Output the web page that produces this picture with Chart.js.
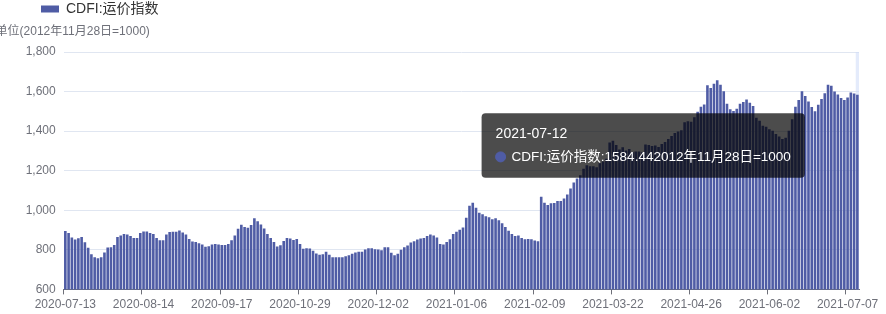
<!DOCTYPE html>
<html><head><meta charset="utf-8">
<script src="https://cdn.jsdelivr.net/npm/chart.js@4.4.1/dist/chart.umd.min.js"></script>
<style>html,body{margin:0;padding:0;background:#fff;}#wrap{width:886px;height:314px;position:relative;}</style>
</head><body><div id="wrap"><canvas id="c" width="886" height="314"></canvas></div>
<script>
const seriesName = 'CDFI:运价指数';
const unitLabel = '单位(2012年11月28日=1000)';
const unitSuffix = '2012年11月28日=1000';
const dates = [
'2020-07-13','2020-07-14','2020-07-15','2020-07-16','2020-07-17','2020-07-20','2020-07-21','2020-07-22','2020-07-23','2020-07-24','2020-07-27','2020-07-28','2020-07-29','2020-07-30','2020-07-31',
'2020-08-03','2020-08-04','2020-08-05','2020-08-06','2020-08-07','2020-08-10','2020-08-11','2020-08-12','2020-08-13','2020-08-14','2020-08-17','2020-08-18','2020-08-19','2020-08-20','2020-08-21','2020-08-24','2020-08-25','2020-08-26','2020-08-27','2020-08-28','2020-08-31',
'2020-09-01','2020-09-02','2020-09-03','2020-09-04','2020-09-07','2020-09-08','2020-09-09','2020-09-10','2020-09-11','2020-09-14','2020-09-15','2020-09-16','2020-09-17','2020-09-18','2020-09-21','2020-09-22','2020-09-23','2020-09-24','2020-09-25','2020-09-28','2020-09-29','2020-09-30',
'2020-10-09','2020-10-12','2020-10-13','2020-10-14','2020-10-15','2020-10-16','2020-10-19','2020-10-20','2020-10-21','2020-10-22','2020-10-23','2020-10-26','2020-10-27','2020-10-28','2020-10-29','2020-10-30',
'2020-11-02','2020-11-03','2020-11-04','2020-11-05','2020-11-06','2020-11-09','2020-11-10','2020-11-11','2020-11-12','2020-11-13','2020-11-16','2020-11-17','2020-11-18','2020-11-19','2020-11-20','2020-11-23','2020-11-24','2020-11-25','2020-11-26','2020-11-27','2020-11-30',
'2020-12-01','2020-12-02','2020-12-03','2020-12-04','2020-12-07','2020-12-08','2020-12-09','2020-12-10','2020-12-11','2020-12-14','2020-12-15','2020-12-16','2020-12-17','2020-12-18','2020-12-21','2020-12-22','2020-12-23','2020-12-24','2020-12-25','2020-12-28','2020-12-29','2020-12-30','2020-12-31',
'2021-01-04','2021-01-05','2021-01-06','2021-01-07','2021-01-08','2021-01-11','2021-01-12','2021-01-13','2021-01-14','2021-01-15','2021-01-18','2021-01-19','2021-01-20','2021-01-21','2021-01-22','2021-01-25','2021-01-26','2021-01-27','2021-01-28','2021-01-29',
'2021-02-01','2021-02-02','2021-02-03','2021-02-04','2021-02-05','2021-02-08','2021-02-09','2021-02-10','2021-02-18','2021-02-19','2021-02-22','2021-02-23','2021-02-24','2021-02-25','2021-02-26',
'2021-03-01','2021-03-02','2021-03-03','2021-03-04','2021-03-05','2021-03-08','2021-03-09','2021-03-10','2021-03-11','2021-03-12','2021-03-15','2021-03-16','2021-03-17','2021-03-18','2021-03-19','2021-03-22','2021-03-23','2021-03-24','2021-03-25','2021-03-26','2021-03-29','2021-03-30','2021-03-31',
'2021-04-01','2021-04-02','2021-04-06','2021-04-07','2021-04-08','2021-04-09','2021-04-12','2021-04-13','2021-04-14','2021-04-15','2021-04-16','2021-04-19','2021-04-20','2021-04-21','2021-04-22','2021-04-23','2021-04-26','2021-04-27','2021-04-28','2021-04-29','2021-04-30',
'2021-05-06','2021-05-07','2021-05-10','2021-05-11','2021-05-12','2021-05-13','2021-05-14','2021-05-17','2021-05-18','2021-05-19','2021-05-20','2021-05-21','2021-05-24','2021-05-25','2021-05-26','2021-05-27','2021-05-28','2021-05-31',
'2021-06-01','2021-06-02','2021-06-03','2021-06-04','2021-06-07','2021-06-08','2021-06-09','2021-06-10','2021-06-11','2021-06-15','2021-06-16','2021-06-17','2021-06-18','2021-06-21','2021-06-22','2021-06-23','2021-06-24','2021-06-25','2021-06-28','2021-06-29','2021-06-30',
'2021-07-01','2021-07-02','2021-07-05','2021-07-06','2021-07-07','2021-07-08','2021-07-09','2021-07-12'
];
const cdfi = [
895,885,862,852,858,865,838,810,778,762,
757,762,787,812,813,825,865,873,880,877,
870,860,860,885,893,893,885,880,860,848,
848,877,890,892,892,898,888,878,855,842,
840,833,827,815,818,827,830,827,825,825,
830,848,873,907,927,915,912,925,960,945,
928,908,880,860,840,817,823,845,860,857,
850,855,830,805,808,807,795,782,775,778,
790,775,762,763,763,763,768,773,780,787,
790,790,802,808,808,803,802,798,813,813,
785,772,780,800,813,822,837,843,852,857,
860,870,877,873,862,830,827,840,853,880,
892,902,913,962,1023,1038,1013,988,980,970,
965,955,960,950,935,915,897,880,870,872,
860,853,855,853,847,843,1068,1038,1027,1035,
1037,1047,1047,1060,1080,1110,1140,1160,1177,1210,
1227,1223,1223,1218,1238,1247,1260,1343,1352,1330,
1307,1318,1302,1310,1293,1297,1297,1293,1333,1330,
1325,1328,1320,1335,1345,1360,1375,1390,1398,1405,
1445,1450,1448,1470,1498,1523,1535,1632,1618,1640,
1657,1635,1602,1538,1510,1502,1513,1538,1547,1560,
1543,1527,1468,1452,1427,1422,1410,1402,1385,1373,
1360,1367,1402,1460,1523,1557,1602,1577,1550,1522,
1500,1533,1563,1592,1635,1630,1600,1585,1567,1558,
1570,1595,1590,1584.44
];
const yMin = 600, yMax = 1800, yStep = 200;
const xLabelStep = 24;
const activeIndex = cdfi.length - 1;

const barColor = '#4F5CA5';
const axisColor = '#6E7079';
const FONT = "'Liberation Sans','Noto Sans CJK SC',sans-serif";

Chart.Tooltip.positioners.fixedLeft = function(items) {
  if (!items.length) return false;
  const el = items[0].element;
  return { x: el.x - 52.5, y: this.chart.chartArea.top + 93.5 };
};

const shadowPlugin = {
  id: 'shadow',
  beforeDatasetsDraw(chart) {
    const {ctx, chartArea, scales} = chart;
    const band = (chartArea.right - chartArea.left) / dates.length;
    const px = scales.x.getPixelForValue(activeIndex);
    ctx.save();
    ctx.fillStyle = 'rgba(205,218,248,0.55)';
    ctx.fillRect(px - band / 2, chartArea.top, band, chartArea.bottom - chartArea.top);
    ctx.restore();
  }
};
const unitPlugin = {
  id: 'unitName',
  afterDraw(chart) {
    const {ctx, chartArea} = chart;
    ctx.save();
    ctx.font = '12px ' + FONT;
    ctx.fillStyle = axisColor;
    ctx.textAlign = 'center';
    ctx.textBaseline = 'middle';
    ctx.fillText(unitLabel, chartArea.left + 9, chartArea.top - 20);
    ctx.restore();
  }
};

const chart = new Chart(document.getElementById('c'), {
  type: 'bar',
  data: {
    labels: dates,
    datasets: [{
      label: seriesName,
      data: cdfi,
      backgroundColor: barColor,
      hoverBackgroundColor: barColor,
      borderWidth: 0,
      categoryPercentage: 0.8,
      barPercentage: 1.0
    }]
  },
  options: {
    responsive: false,
    animation: false,
    devicePixelRatio: 1,
    events: [],
    layout: { padding: { left: 0, right: 27, top: -39, bottom: 0 } },
    plugins: {
      legend: {
        display: true, position: 'top', align: 'start', weight: 3000,
        labels: { boxWidth: 18, boxHeight: 7, padding: 41, color: '#333', font: { size: 14, family: FONT } }
      },
      subtitle: { display: true, text: '', font: { size: 12 }, padding: { top: 0, bottom: 11.6 } },
      title: { display: false },
      tooltip: {
        enabled: true,
        position: 'fixedLeft',
        xAlign: 'right', yAlign: 'center',
        caretSize: 0, caretPadding: 0, cornerRadius: 4,
        backgroundColor: 'rgba(0,0,0,0.7)',
        titleColor: '#fff', bodyColor: '#fff',
        titleFont: { size: 14, weight: 'normal', family: FONT, lineHeight: 1.2 },
        bodyFont: { size: 13.5, family: FONT, lineHeight: 16.8 / 13.5 },
        titleMarginBottom: 6,
        padding: { left: 14, right: 14, top: 12.5, bottom: 12.5 },
        displayColors: true, usePointStyle: true, boxWidth: 10, boxHeight: 10, boxPadding: 4,
        multiKeyBackground: 'rgba(0,0,0,0)',
        callbacks: {
          title: items => dates[items[0].dataIndex],
          label: item => seriesName + ':' + cdfi[item.dataIndex] + unitSuffix,
          labelColor: () => ({ backgroundColor: barColor, borderColor: barColor, borderWidth: 0 }),
          labelPointStyle: () => ({ pointStyle: 'circle', rotation: 0 })
        }
      }
    },
    scales: {
      x: {
        type: 'category',
        offset: true,
        grid: { display: true, drawOnChartArea: false, drawTicks: true, tickLength: 5, offset: true,
          tickColor: ctx => (ctx.index % xLabelStep === 0 ? axisColor : 'rgba(0,0,0,0)') },
        border: { display: true, color: axisColor, width: 1 },
        ticks: {
          autoSkip: false, maxRotation: 0, minRotation: 0, padding: 2.6,
          color: axisColor, font: { size: 12, family: FONT },
          callback: (v, i) => (i % xLabelStep === 0 ? dates[i] : '')
        }
      },
      y: {
        min: yMin, max: yMax,
        afterFit: s => { s.width = 63.7; },
        grid: { color: '#E0E6F1', drawTicks: false },
        border: { display: false },
        ticks: { stepSize: yStep, padding: 8, color: axisColor, font: { size: 12, family: FONT },
          callback: v => Number(v).toLocaleString('en-US') }
      }
    }
  },
  plugins: [shadowPlugin, unitPlugin]
});
chart.tooltip.setActiveElements([{ datasetIndex: 0, index: activeIndex }], { x: 0, y: 0 });
chart.update();
</script>
</body></html>
